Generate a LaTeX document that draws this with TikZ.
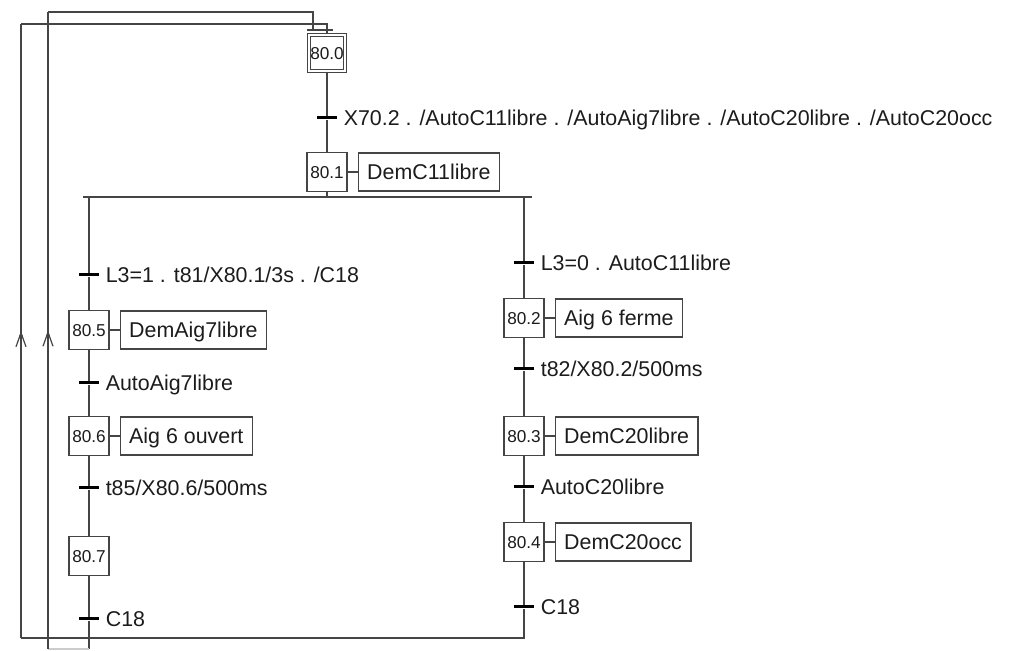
\documentclass[tikz,border=0pt]{standalone}
\usepackage{fontspec}
\setmainfont{Liberation Sans}
\usetikzlibrary{arrows.meta, positioning, decorations.markings}
\definecolor{wire}{HTML}{454545}
\definecolor{ink}{HTML}{1C1C1C}
\tikzset{
  stepbox/.style={draw=wire, line width=0.6pt, fill=white, minimum width=20pt,
    minimum height=19.5pt, inner sep=0pt, text height=6.1pt, text depth=0pt,
    font=\fontsize{8.6}{9}\selectfont},
  initstep/.style={stepbox, double=white, double distance=1pt,
    minimum width=18pt, minimum height=18pt},
  actbox/.style={draw=wire, line width=0.6pt, minimum height=19pt,
    inner xsep=4.5pt, inner ysep=0pt, text height=7.6pt, text depth=0pt},
  trans/.style={fill=black, minimum width=10pt, minimum height=1.5pt, inner sep=0pt},
  tlabel/.style={inner sep=0pt, text height=7.6pt, text depth=0pt},
  link/.style={draw=wire, line width=0.6pt},
  upmark/.style={postaction={decorate, decoration={markings,
    mark=at position 0.5 with {\arrow{Straight Barb[length=7pt,width=5pt]}
      \arrow{Latex[length=3pt,width=2.2pt]}}}}},
}
\begin{document}
\begin{tikzpicture}[x=0.5pt, y=-0.5pt, font=\fontsize{10.7}{12}\selectfont, text=ink]
  \useasboundingbox (0,0) rectangle (1014,651);
  % initial step
  \node[initstep] (s800) at (327,53) {80.0};
  \node[trans] (t800) at (327,118) {};
  \node[tlabel, right=3pt of t800] {X70.2 . /AutoC11libre . /AutoAig7libre . /AutoC20libre . /AutoC20occ};
  \node[stepbox] (s801) at (327,172) {80.1};
  \node[actbox, right=5pt of s801] (a801) {DemC11libre};
  % divergence
  \coordinate (dv) at (327,197);
  \coordinate (dle) at (83,197);
  \coordinate (dre) at (532,197);
  \coordinate (dl) at (89,197);
  \coordinate (dr) at (524,197);
  % left branch
  \node[trans] (t805) at (89,275) {};
  \node[tlabel, right=3pt of t805] {L3=1 . t81/X80.1/3s . /C18};
  \node[stepbox] (s805) at (89,330) {80.5};
  \node[actbox, right=5pt of s805] (a805) {DemAig7libre};
  \node[trans] (t806) at (89,383) {};
  \node[tlabel, right=3pt of t806] {AutoAig7libre};
  \node[stepbox] (s806) at (89,436) {80.6};
  \node[actbox, right=5pt of s806] (a806) {Aig 6 ouvert};
  \node[trans] (t807) at (89,488) {};
  \node[tlabel, right=3pt of t807] {t85/X80.6/500ms};
  \node[stepbox] (s807) at (89,556) {80.7};
  \node[trans] (t808) at (89,619) {};
  \node[tlabel, right=3pt of t808] {C18};
  % right branch
  \node[trans] (t802) at (524,263) {};
  \node[tlabel, right=3pt of t802] {L3=0 . AutoC11libre};
  \node[stepbox] (s802) at (524,318) {80.2};
  \node[actbox, right=5pt of s802] (a802) {Aig 6 ferme};
  \node[trans] (t803) at (524,369) {};
  \node[tlabel, right=3pt of t803] {t82/X80.2/500ms};
  \node[stepbox] (s803) at (524,436) {80.3};
  \node[actbox, right=5pt of s803] (a803) {DemC20libre};
  \node[trans] (t804) at (524,487) {};
  \node[tlabel, right=3pt of t804] {AutoC20libre};
  \node[stepbox] (s804) at (524,542) {80.4};
  \node[actbox, right=5pt of s804] (a804) {DemC20occ};
  \node[trans] (t809) at (524,607) {};
  \node[tlabel, right=3pt of t809] {C18};
  % loop-back corners
  \coordinate (lbot) at (89,649);
  \coordinate (lcor) at (48,649);
  \coordinate (ltop) at (48,12);
  \coordinate (ltr) at (313,12);
  \coordinate (ja) at (313,30);
  \coordinate (rbot) at (524,638);
  \coordinate (rcor) at (21,638);
  \coordinate (rtop) at (21,24);
  \coordinate (rtr) at (327,24);
  \coordinate (jb) at (327,30);
  \coordinate (jl) at (307,30);
  \coordinate (jr) at (333,30);

  \draw[link] (s800) -- (t800) -- (s801) -- (dv);
  \draw[link] (dle) -- (dre);
  \draw[link] (dl) -- (t805) -- (s805) -- (t806) -- (s806) -- (t807) -- (s807) -- (t808) -- (lbot);
  \draw[link] (dr) -- (t802) -- (s802) -- (t803) -- (s803) -- (t804) -- (s804) -- (t809) -- (rbot) -- (rcor);
  \draw[link, upmark] (rcor) -- (rtop);
  \draw[link] (rtop) -- (rtr) -- (jb) -- (s800);
  \draw[gray!40, line width=0.6pt] (lbot) -- (lcor);
  \draw[link, upmark] (lcor) -- (ltop);
  \draw[link] (ltop) -- (ltr) -- (ja);
  \draw[link] (jl) -- (jr);
  \foreach \s in {801,805,806,802,803,804}
    \draw[link] (s\s) -- (a\s);
\end{tikzpicture}
\end{document}
